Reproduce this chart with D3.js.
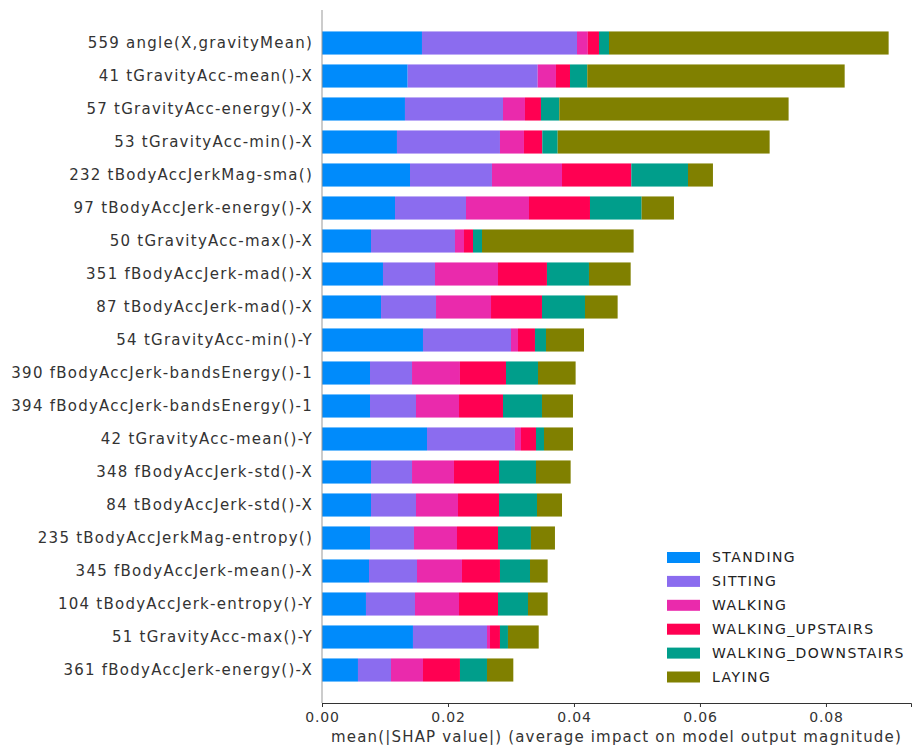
<!DOCTYPE html>
<html>
<head>
<meta charset="utf-8">
<script src="https://cdn.jsdelivr.net/npm/d3@7"></script>
<style>
  body { margin: 0; background: #fff; }
  text { font-family: "DejaVu Sans", sans-serif; }
</style>
</head>
<body>
<div id="chart"></div>
<script>
// feature names, top to bottom
var features = [
  "559 angle(X,gravityMean)", "41 tGravityAcc-mean()-X", "57 tGravityAcc-energy()-X",
  "53 tGravityAcc-min()-X", "232 tBodyAccJerkMag-sma()", "97 tBodyAccJerk-energy()-X",
  "50 tGravityAcc-max()-X", "351 fBodyAccJerk-mad()-X", "87 tBodyAccJerk-mad()-X",
  "54 tGravityAcc-min()-Y", "390 fBodyAccJerk-bandsEnergy()-1", "394 fBodyAccJerk-bandsEnergy()-1",
  "42 tGravityAcc-mean()-Y", "348 fBodyAccJerk-std()-X", "84 tBodyAccJerk-std()-X",
  "235 tBodyAccJerkMag-entropy()", "345 fBodyAccJerk-mean()-X", "104 tBodyAccJerk-entropy()-Y",
  "51 tGravityAcc-max()-Y", "361 fBodyAccJerk-energy()-X"
];
var classes = ["STANDING", "SITTING", "WALKING", "WALKING_UPSTAIRS", "WALKING_DOWNSTAIRS", "LAYING"];
var colors = ["#008bfb", "#8b6cef", "#ea2aac", "#ff0052", "#009e8b", "#808000"];

// mean |SHAP| per class, same order as features
var standing   = [0.01587, 0.0136, 0.01317, 0.0119, 0.01397, 0.01159, 0.00778, 0.00968, 0.00937, 0.01603,
                  0.00762, 0.00762, 0.01667, 0.00778, 0.00778, 0.00762, 0.00746, 0.00698, 0.01444, 0.00571];
var sitting    = [0.02461, 0.02064, 0.01556, 0.01635, 0.01301, 0.01127, 0.01333, 0.00826, 0.00873, 0.01397,
                  0.00667, 0.0073, 0.01396, 0.00651, 0.00714, 0.00698, 0.00762, 0.00778, 0.01175, 0.00524];
var walking    = [0.00172, 0.0029, 0.00349, 0.00381, 0.01112, 0.01, 0.00143, 0.01, 0.00873, 0.00111,
                  0.00761, 0.00683, 0.00096, 0.00666, 0.00667, 0.00683, 0.00714, 0.00699, 0.00048, 0.00508];
var upstairs   = [0.00177, 0.00223, 0.00254, 0.00291, 0.011, 0.00968, 0.00143, 0.00777, 0.00809, 0.0027,
                  0.00731, 0.00698, 0.00238, 0.00715, 0.00651, 0.00651, 0.00603, 0.00619, 0.00158, 0.00587];
var downstairs = [0.00159, 0.00274, 0.00291, 0.00244, 0.009, 0.0082, 0.00143, 0.00667, 0.00683, 0.00175,
                  0.00508, 0.00619, 0.00127, 0.00587, 0.00603, 0.00523, 0.00477, 0.00476, 0.00127, 0.00429];
var laying     = [0.04439, 0.04086, 0.0364, 0.03365, 0.00396, 0.00513, 0.02407, 0.00662, 0.00518, 0.00603,
                  0.00597, 0.00492, 0.0046, 0.0055, 0.00397, 0.00381, 0.0028, 0.00312, 0.00488, 0.00418];
var xTicks = [0, 0.02, 0.04, 0.06, 0.08];

var series = [standing, sitting, walking, upstairs, downstairs, laying];
var table = features.map(function(f, i) {
  var row = { feature: f };
  classes.forEach(function(c, k) { row[c] = series[k][i]; });
  return row;
});
var stacked = d3.stack().keys(classes)(table);

var width = 912, height = 745;
var margin = { top: 10, right: 1, bottom: 42, left: 322 };

var svg = d3.select("#chart").append("svg")
    .attr("width", width)
    .attr("height", height);

var x = d3.scaleLinear()
    .domain([0, 0.0935])
    .range([margin.left, width - margin.right]);

var y = d3.scaleLinear()
    .domain([-1, features.length])
    .range([margin.top, height - margin.bottom]);

var barH = (y(1) - y(0)) * 0.7;

var layer = svg.selectAll(".layer")
    .data(stacked)
  .enter().append("g")
    .attr("class", "layer")
    .attr("fill", function(d, k) { return colors[k]; });

layer.selectAll("rect")
    .data(function(d) { return d; })
  .enter().append("rect")
    .attr("x", function(d) { return x(d[0]); })
    .attr("width", function(d) { return x(d[1]) - x(d[0]); })
    .attr("y", function(d, i) { return y(i) - barH / 2; })
    .attr("height", barH);

// y labels
svg.append("g")
    .selectAll("text")
    .data(features)
  .enter().append("text")
    .attr("x", margin.left - 9)
    .attr("y", function(d, i) { return y(i); })
    .attr("dy", "0.35em")
    .attr("text-anchor", "end")
    .attr("fill", "#333")
    .style("font-size", "15px")
    .style("letter-spacing", "1.25px")
    .text(function(d) { return d; });

// left spine
svg.append("line")
    .attr("x1", margin.left).attr("x2", margin.left)
    .attr("y1", y(-1)).attr("y2", y(features.length))
    .attr("stroke", "#999")
    .attr("stroke-width", 1);

// x axis
var xAxis = svg.append("g")
    .attr("transform", "translate(0," + y(features.length) + ")")
    .call(d3.axisBottom(x).tickValues(xTicks).tickFormat(d3.format(".2f")).tickSize(4).tickPadding(5));
xAxis.select(".domain").attr("stroke", "#333");
xAxis.selectAll(".tick line").attr("stroke", "#333");
xAxis.selectAll("text")
    .attr("fill", "#333")
    .style("font-family", "DejaVu Sans, sans-serif")
    .style("font-size", "14px")
    .style("letter-spacing", "0.8px");

svg.append("text")
    .attr("x", (x.range()[0] + x.range()[1]) / 2)
    .attr("y", 742)
    .attr("text-anchor", "middle")
    .attr("fill", "#333")
    .style("font-size", "15px")
    .style("letter-spacing", "1.17px")
    .text("mean(|SHAP value|) (average impact on model output magnitude)");

// legend
var legend = svg.append("g")
    .attr("transform", "translate(667,552)");
var item = legend.selectAll("g")
    .data(classes)
  .enter().append("g")
    .attr("transform", function(d, k) { return "translate(0," + (k * 23.9) + ")"; });
item.append("rect")
    .attr("width", 33)
    .attr("height", 11)
    .attr("fill", function(d, k) { return colors[k]; });
item.append("text")
    .attr("x", 45)
    .attr("y", 5.5)
    .attr("dy", "0.35em")
    .attr("fill", "#222")
    .style("font-size", "14px")
    .style("letter-spacing", "1.44px")
    .text(function(d) { return d; });
</script>
</body>
</html>
